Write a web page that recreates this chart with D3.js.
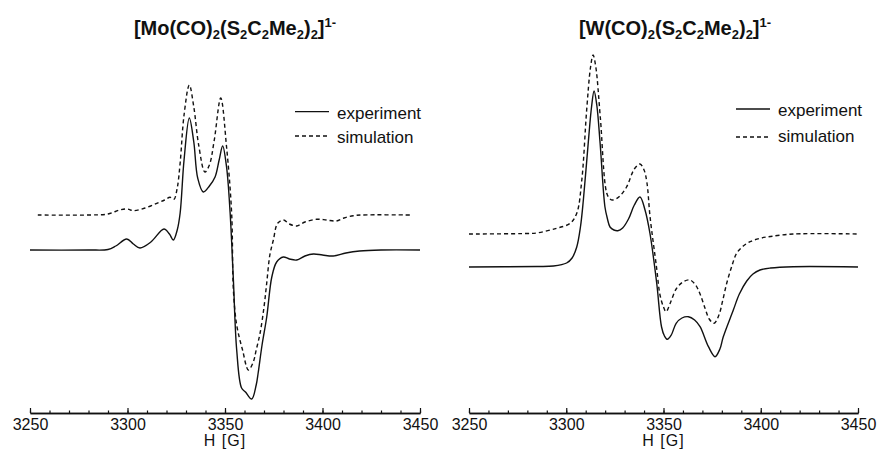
<!DOCTYPE html>
<html>
<head>
<meta charset="utf-8">
<script src="https://cdn.jsdelivr.net/npm/d3@7"></script>
<style>
  body { margin: 0; background: #fff; }
  svg text { font-family: "Liberation Sans", Arial, Helvetica, sans-serif; fill: #111; }
</style>
</head>
<body>
<div id="chart"></div>
<script>
'use strict';

// field axis (Gauss)
var fieldDomain = [3250, 3450]
var majorTicks = [3250, 3300, 3350, 3400, 3450]
var minorTicks = d3.range(3250, 3451, 10)
var axisLabel = "H [G]"
var legendLabels = ["experiment", "simulation"]

// [Mo(CO)2(S2C2Me2)2]1-  ---  [field, intensity a.u.]
var moExperiment = [
  [3250, 0], [3280, 0], [3290, 0.5], [3294, 4], [3299.6, 11], [3303, 6], [3306.4, 2],
  [3312, 8], [3318.7, 21], [3321.5, 16], [3323.5, 10], [3325.5, 20], [3327, 37],
  [3329, 90], [3331.7, 132], [3334, 108], [3336, 72], [3338.9, 58], [3342, 64],
  [3344.9, 73], [3347, 90], [3348.8, 104], [3350.8, 83], [3352.6, 38], [3354.3, -30],
  [3356, -100], [3358.5, -138], [3360.5, -142], [3363.7, -149], [3366, -135],
  [3367, -123], [3369, -95], [3371.4, -67], [3374, -27], [3376.5, -12], [3379.9, -7],
  [3383, -9], [3386.8, -10], [3391, -6], [3395.3, -4], [3400, -5], [3405.5, -6],
  [3412, -3], [3419, -1], [3430, 0], [3450, 0]
]
var moSimulation = [
  [3254, 35], [3280, 35], [3290, 36], [3296, 40], [3300, 41], [3303, 39.3], [3309, 42],
  [3315, 46.7], [3319, 50], [3321.8, 52.7], [3323.8, 50.7], [3325.5, 62], [3327, 87],
  [3329, 135], [3331.7, 165], [3334, 143], [3336.5, 105], [3339.7, 78], [3342, 85],
  [3344.5, 110], [3347.8, 152], [3350.8, 103], [3353.4, 37], [3354.3, -40],
  [3356, -75], [3359, -100], [3362, -120], [3364.5, -112], [3366, -100], [3368, -83],
  [3370, -57], [3371.4, -33], [3373, -5], [3374.8, 10], [3377, 26.7], [3380, 30],
  [3383, 26], [3386.8, 24], [3391, 28], [3397, 30.7], [3402, 30], [3407, 29],
  [3411, 32], [3415.8, 34.3], [3420, 35], [3446, 35]
]

// [W(CO)2(S2C2Me2)2]1-
var wExperiment = [
  [3250, 0], [3285, 0.5], [3293.4, 1], [3300.2, 4], [3303, 9], [3305.4, 20],
  [3307.3, 40], [3308.8, 67], [3311.3, 124], [3313, 160], [3314.3, 176], [3315.7, 162],
  [3317.4, 124], [3319.9, 60], [3321.2, 48], [3322.5, 40], [3324.5, 37], [3326.5, 36.3],
  [3329, 39], [3332, 48], [3335, 62], [3337.9, 70], [3340.5, 57], [3343, 34],
  [3346.5, -16], [3349, -60], [3350.5, -69], [3352, -72.3], [3354, -68], [3356.5, -56.3],
  [3359.5, -51], [3362.8, -49.7], [3366, -53], [3368.8, -59.7], [3373.1, -79.7], [3376.5, -89.7],
  [3379, -82], [3380.7, -70], [3385.9, -43], [3389, -27], [3392.8, -14], [3396, -7],
  [3399.6, -3], [3405, -1], [3416.7, 0.3], [3450, 0]
]
var wSimulation = [
  [3250, 33], [3280, 33.5], [3284.8, 34], [3295, 38.7], [3302, 43.7], [3305.4, 53.7],
  [3308, 87], [3310.5, 157], [3312.5, 200], [3313.8, 212], [3315.2, 200], [3317.5, 150],
  [3320.8, 74], [3322.5, 68], [3324, 67], [3327, 70], [3331, 80], [3335, 98],
  [3337.9, 103], [3340, 97], [3341.5, 84], [3343.1, 50], [3346.4, 0], [3348.2, -28],
  [3350, -40], [3351.3, -44.7], [3353.5, -36], [3356.5, -22], [3360, -15], [3363.6, -13],
  [3366.5, -18], [3368.8, -27], [3371.5, -42], [3373.5, -52], [3376, -56.3], [3378.5, -48], [3380.5, -33],
  [3382.5, -16.3], [3385, 0], [3387.6, 13.7], [3391, 21], [3394.5, 25.3], [3399.6, 28.7],
  [3405, 30.5], [3416.6, 33], [3450, 33]
]

var moTitle = [["[Mo(CO)"], ["2", "sub"], ["(S"], ["2", "sub"], ["C"], ["2", "sub"], ["Me"], ["2", "sub"], [")"], ["2", "sub"], ["]"], ["1-", "sup"]]
var wTitle = [["[W(CO)"], ["2", "sub"], ["(S"], ["2", "sub"], ["C"], ["2", "sub"], ["Me"], ["2", "sub"], [")"], ["2", "sub"], ["]"], ["1-", "sup"]]

var W = 881, H = 466
var svg = d3.select("#chart").append("svg").attr("width", W).attr("height", H)
svg.append("rect").attr("width", W).attr("height", H).attr("fill", "#fff")

var panels = [
  {title: moTitle, exp: moExperiment, sim: moSimulation, x0: 30, x1: 420,
   yDom: [-150, 165], yRange: [400, 85], titleX: 235,
   legX: 295, legY: [111.7, 136], textY: [119, 142.5]},
  {title: wTitle, exp: wExperiment, sim: wSimulation, x0: 469, x1: 858,
   yDom: [-90, 212], yRange: [357, 55], titleX: 675,
   legX: 736, legY: [109, 137], textY: [115.5, 142]}
]

var axisY = 413

panels.forEach(function(p){
  var x = d3.scaleLinear().domain(fieldDomain).range([p.x0, p.x1])
  var y = d3.scaleLinear().domain(p.yDom).range(p.yRange)
  var g = svg.append("g")

  // title with sub/superscripts
  var t = g.append("text").attr("x", p.titleX).attr("y", 35)
    .attr("text-anchor", "middle").style("font-weight", "bold").style("font-size", "20px")
  var shift = 0
  p.title.forEach(function(s){
    var target = s[1] == "sub" ? 4 : (s[1] == "sup" ? -8 : 0)
    var dy = target - shift
    shift = target
    t.append("tspan").text(s[0]).attr("dy", dy)
      .style("font-size", s[1] ? "13px" : "20px")
  })

  // axis: minor then major
  g.append("g").attr("transform", "translate(0," + axisY + ")")
    .call(d3.axisBottom(x).tickValues(minorTicks).tickSize(-2.5).tickSizeOuter(0).tickFormat(""))
  var ax = g.append("g").attr("transform", "translate(0," + axisY + ")")
    .call(d3.axisBottom(x).tickValues(majorTicks).tickSize(-5).tickSizeOuter(0)
      .tickPadding(6).tickFormat(d3.format("d")))
  g.selectAll(".domain").attr("stroke", "#111").attr("stroke-width", 1.3)
  g.selectAll(".tick line").attr("stroke", "#111").attr("stroke-width", 1.2)
  ax.selectAll(".tick text").style("font-size", "16px").attr("fill", "#111")
    .style("font-family", "'Liberation Sans', Arial, sans-serif")
  g.append("text").text(axisLabel).attr("x", (p.x0 + p.x1) / 2).attr("y", 446)
    .attr("text-anchor", "middle").style("font-size", "16px").style("letter-spacing", "1px")

  var line = d3.line().x(function(d){ return x(d[0]) }).y(function(d){ return y(d[1]) })
    .curve(d3.curveCatmullRom.alpha(0.5))

  g.append("path").datum(p.sim).attr("d", line).attr("fill", "none")
    .attr("stroke", "#111").attr("stroke-width", 1.4).attr("stroke-dasharray", "4,3")
  g.append("path").datum(p.exp).attr("d", line).attr("fill", "none")
    .attr("stroke", "#111").attr("stroke-width", 1.4)

  // legend
  legendLabels.forEach(function(lab, i){
    g.append("line").attr("x1", p.legX).attr("x2", p.legX + 34)
      .attr("y1", p.legY[i]).attr("y2", p.legY[i])
      .attr("stroke", "#111").attr("stroke-width", 1.3)
      .attr("stroke-dasharray", i == 1 ? "4,3" : null)
    g.append("text").text(lab).attr("x", p.legX + 42).attr("y", p.textY[i])
      .style("font-size", "17px")
  })
})
</script>
</body>
</html>
